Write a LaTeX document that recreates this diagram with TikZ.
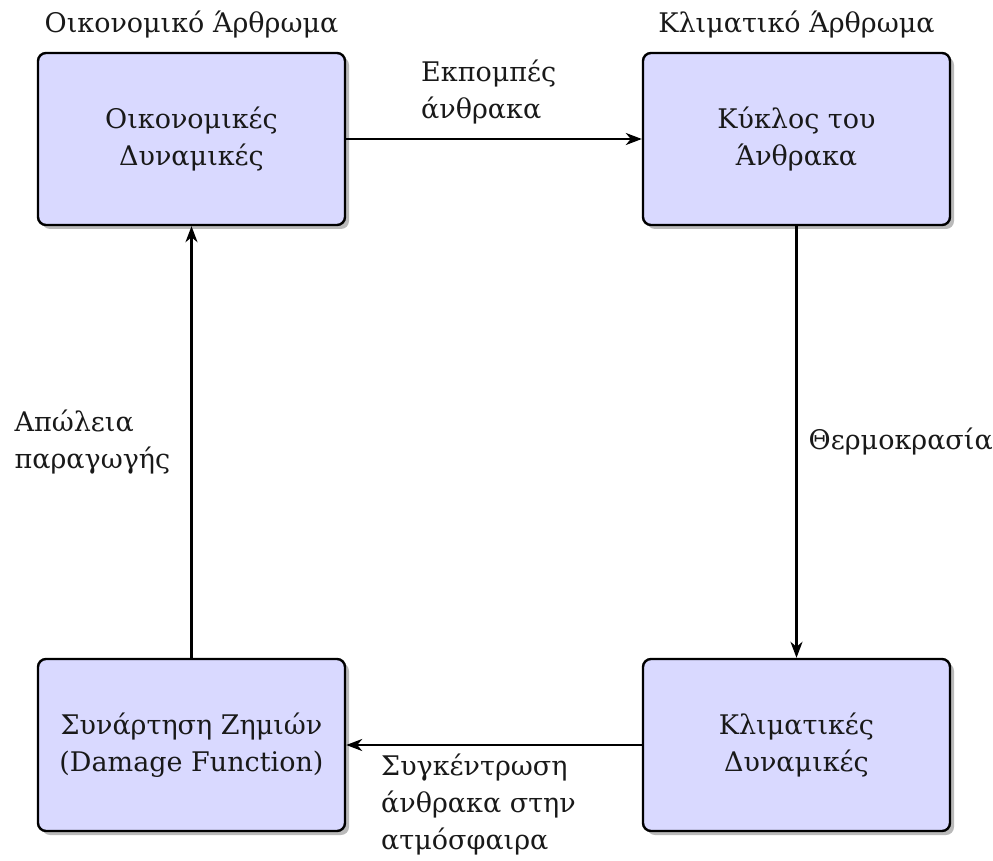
\documentclass[tikz,border=0pt]{standalone}
\usepackage{fontspec}
\setmainfont{DejaVu Serif}
\usetikzlibrary{arrows.meta,shadows,positioning}
\tikzset{
  blockbox/.style={draw=black, line width=2.4pt, rounded corners=8pt, fill=blue!15,
    minimum width=307pt, minimum height=172pt, align=center, inner sep=0pt,
    drop shadow={shadow xshift=4pt, shadow yshift=-4pt, fill=black!45, opacity=0.6},
    font=\fontsize{27}{37}\selectfont, text=black!90},
  flowarrow/.style={line width=2.4pt, -{Stealth[length=16pt,width=12pt,inset=5pt]}},
  lbl/.style={font=\fontsize{27}{37}\selectfont, text=black!90, align=left, inner sep=0pt},
}
\begin{document}
\begin{tikzpicture}[x=1pt,y=-1pt]
\useasboundingbox (0,0) rectangle (993,861);
\node[blockbox] (econ) at (191.5,139) {Οικονομικές\\Δυναμικές};
\node[blockbox] (carbon) at (796.5,139) {Κύκλος του\\Άνθρακα};
\node[blockbox] (damage) at (191.5,745) {Συνάρτηση Ζημιών\\(Damage Function)};
\node[blockbox] (climate) at (796.5,745) {Κλιματικές\\Δυναμικές};
\node[lbl] (econtitle) at (191.5,25) {Οικονομικό Άρθρωμα};
\node[lbl] (climtitle) at (796.5,25) {Κλιματικό Άρθρωμα};
\draw[flowarrow] (econ) -- node[lbl, anchor=south west, xshift=-74pt, yshift=14pt] {Εκπομπές\\άνθρακα} (carbon);
\draw[flowarrow] (carbon) -- node[lbl, anchor=west, xshift=11pt] {Θερμοκρασία} (climate);
\draw[flowarrow] (climate) -- node[lbl, anchor=north west, xshift=-114pt, yshift=-8pt] {Συγκέντρωση\\άνθρακα στην\\ατμόσφαιρα} (damage);
\draw[flowarrow] (damage) -- node[lbl, anchor=east, xshift=-20pt] {Απώλεια\\παραγωγής} (econ);
\end{tikzpicture}
\end{document}
